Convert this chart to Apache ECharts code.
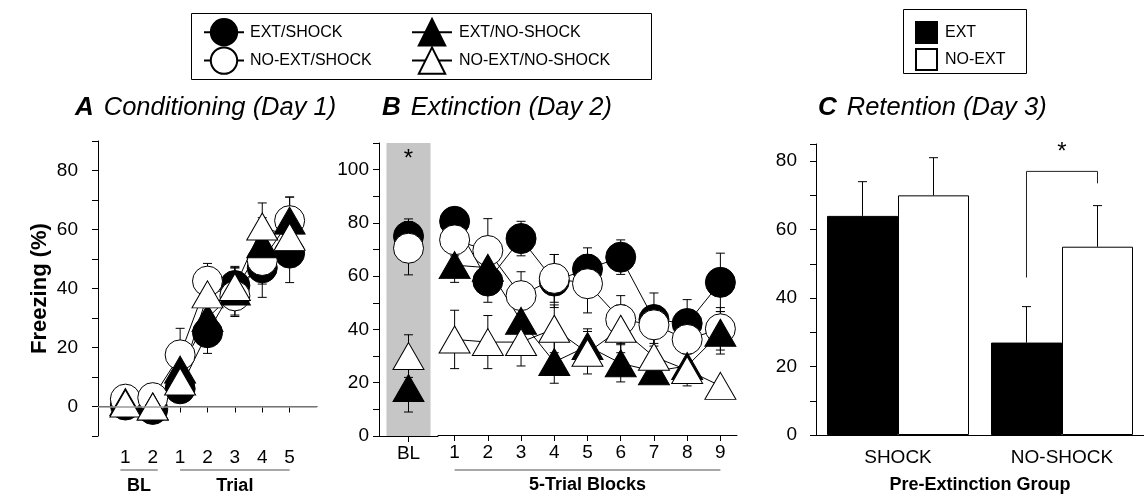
<!DOCTYPE html>
<html>
<head>
<meta charset="utf-8">
<script src="https://cdn.jsdelivr.net/npm/echarts@6/dist/echarts.min.js"></script>
<style>
  html, body { margin: 0; padding: 0; background: #fff; }
  #chart { width: 1144px; height: 499px; }
</style>
</head>
<body>
<div id="chart"></div>
<script>
// ---- Data: freezing (%) and SEM per group ----
const groupNames = ['EXT/SHOCK', 'NO-EXT/SHOCK', 'EXT/NO-SHOCK', 'NO-EXT/NO-SHOCK'];

// A: conditioning (BL 1-2, trials 1-5)
const condLabels = ['1', '2', '1', '2', '3', '4', '5'];
const condExtShock = [0.5, -1, 6, 25, 41, 47, 52];
const condExtShockSem = [2, 2, 3, 7, 6, 10, 10];
const condNoExtShock = [2.5, 3, 17.5, 42.5, 37.5, 49.5, 63];
const condNoExtShockSem = [2, 2, 9, 6, 7, 8, 8];
const condExtNoShock = [1.5, 0, 12.5, 30, 39, 55, 63];
const condExtNoShockSem = [2, 2, 6, 6, 8, 9, 8];
const condNoExtNoShock = [1, 0, 8.5, 38, 40.5, 61, 57.5];
const condNoExtNoShockSem = [2, 2, 4, 6, 7, 8, 8];

// B: extinction baseline and 5-trial blocks 1-9
const extBaseLabel = ['BL'];
const extBlockLabels = ['1', '2', '3', '4', '5', '6', '7', '8', '9'];
const extBaseExtShock = [75];       const extBaseExtShockSem = [6.5];
const extBaseNoExtShock = [70.5];   const extBaseNoExtShockSem = [10];
const extBaseExtNoShock = [18];     const extBaseExtNoShockSem = [9];
const extBaseNoExtNoShock = [30];   const extBaseNoExtNoShockSem = [8];
const extExtShock = [80.5, 58, 74, 58, 62.5, 67, 43.5, 42, 57.5];
const extExtShockSem = [3, 8, 6.5, 10, 8, 6.5, 10, 9, 11];
const extNoExtShock = [73.5, 69.5, 52.5, 59, 57, 43.5, 41.5, 36, 40];
const extNoExtShockSem = [6, 12, 9, 9, 11, 9, 7, 8, 8];
const extExtNoShock = [64, 63, 43, 27.5, 33.5, 27, 24, 26, 38.5];
const extExtNoShockSem = [6.5, 9, 8, 8, 6.5, 7, 4, 5, 8];
const extNoExtNoShock = [36, 35, 35, 40, 31, 40, 29.5, 24.5, 18.5];
const extNoExtNoShockSem = [11, 10, 9, 9, 8, 9, 10, 6, 2];

// C: retention by pre-extinction group
const retGroups = ['SHOCK', 'NO-SHOCK'];
const retExt = [64, 27];
const retExtSem = [10, 10.5];
const retNoExt = [70, 55];
const retNoExtSem = [11, 12];

// ---- Styling ----
const FONT = 'Liberation Sans';
const BLACK = '#000';
const groupStyle = {
  'EXT/SHOCK':       { symbol: 'circle',   fill: '#000' },
  'NO-EXT/SHOCK':    { symbol: 'circle',   fill: '#fff' },
  'EXT/NO-SHOCK':    { symbol: 'triangle', fill: '#000' },
  'NO-EXT/NO-SHOCK': { symbol: 'triangle', fill: '#fff' }
};
const CIRCLE_SIZE = 30;
const TRI_SIZE = [31, 27];
const CAP = 4.5;
const BAR_CAT_GAP = 0.134;

const condSets = [
  [condExtShock, condExtShockSem], [condNoExtShock, condNoExtShockSem],
  [condExtNoShock, condExtNoShockSem], [condNoExtNoShock, condNoExtNoShockSem]
];
const baseSets = [
  [extBaseExtShock, extBaseExtShockSem], [extBaseNoExtShock, extBaseNoExtShockSem],
  [extBaseExtNoShock, extBaseExtNoShockSem], [extBaseNoExtNoShock, extBaseNoExtNoShockSem]
];
const blockSets = [
  [extExtShock, extExtShockSem], [extNoExtShock, extNoExtShockSem],
  [extExtNoShock, extExtNoShockSem], [extNoExtNoShock, extNoExtNoShockSem]
];

function errorBars(params, api) {
  const x = api.value(0), y = api.value(1), e = api.value(2);
  const hi = api.coord([x, y + e]);
  const lo = api.coord([x, y - e]);
  const cx = hi[0];
  const st = { stroke: BLACK, lineWidth: 1 };
  return {
    type: 'group',
    children: [
      { type: 'line', shape: { x1: cx, y1: hi[1], x2: cx, y2: lo[1] }, style: st },
      { type: 'line', shape: { x1: cx - CAP, y1: hi[1], x2: cx + CAP, y2: hi[1] }, style: st },
      { type: 'line', shape: { x1: cx - CAP, y1: lo[1], x2: cx + CAP, y2: lo[1] }, style: st }
    ]
  };
}

function groupSeries(name, values, sems, axisIdx, offset, withLine) {
  const gs = groupStyle[name];
  const pts = values.map((v, i) => [i + offset, v]);
  const errs = values.map((v, i) => [i + offset, v, sems[i]]);
  return [
    {
      type: 'custom', name: name + ' SEM', xAxisIndex: axisIdx, yAxisIndex: axisIdx,
      renderItem: errorBars, data: errs, encode: { x: 0, y: 1 }, silent: true
    },
    {
      type: 'line', name: name, xAxisIndex: axisIdx, yAxisIndex: axisIdx,
      data: pts,
      symbol: gs.symbol,
      symbolSize: gs.symbol === 'circle' ? CIRCLE_SIZE : TRI_SIZE,
      showSymbol: true,
      lineStyle: { color: BLACK, width: withLine ? 1 : 0, opacity: withLine ? 1 : 0 },
      itemStyle: { color: gs.fill, borderColor: BLACK, borderWidth: 1 },
      emphasis: { disabled: true }
    }
  ];
}

const series = [];

// zero reference line in A
series.push({
  type: 'line', xAxisIndex: 0, yAxisIndex: 0, data: [], silent: true,
  markLine: {
    silent: true, symbol: 'none', label: { show: false },
    lineStyle: { color: '#9a9a9a', width: 1.5, type: 'solid' },
    data: [{ yAxis: 0 }]
  }
});

// grey baseline band in B
series.push({
  type: 'bar', xAxisIndex: 1, yAxisIndex: 1, data: [110], barWidth: 44,
  itemStyle: { color: '#c6c6c6' }, silent: true, z: 1
});

groupNames.forEach((name, g) => {
  series.push(...groupSeries(name, condSets[g][0], condSets[g][1], 0, 1, true));
  series.push(...groupSeries(name, baseSets[g][0], baseSets[g][1], 1, 0, false));
  series.push(...groupSeries(name, blockSets[g][0], blockSets[g][1], 2, 0, true));
});

// significance star above the baseline column
series.push({
  type: 'custom', xAxisIndex: 1, yAxisIndex: 1, silent: true, data: [[0, 104]],
  renderItem: (params, api) => {
    const p = api.coord([api.value(0), api.value(1)]);
    return { type: 'text', x: p[0], y: p[1],
      style: { text: '*', fill: BLACK, font: '24px ' + FONT, align: 'center', verticalAlign: 'middle' } };
  }
});

// C: bars
series.push({
  type: 'bar', name: 'EXT', xAxisIndex: 3, yAxisIndex: 3, data: retExt,
  barGap: '0%', barCategoryGap: (BAR_CAT_GAP * 100) + '%',
  itemStyle: { color: '#000', borderColor: BLACK, borderWidth: 1 }, emphasis: { disabled: true }
});
series.push({
  type: 'bar', name: 'NO-EXT', xAxisIndex: 3, yAxisIndex: 3, data: retNoExt,
  barGap: '0%', barCategoryGap: (BAR_CAT_GAP * 100) + '%',
  itemStyle: { color: '#fff', borderColor: BLACK, borderWidth: 1 }, emphasis: { disabled: true }
});

function barErrors(side) {
  return (params, api) => {
    const x = api.value(0), y = api.value(1), e = api.value(2);
    const band = api.size([1, 0])[0];
    const barW = band * (1 - BAR_CAT_GAP) / 2;
    const base = api.coord([x, y]);
    const top = api.coord([x, y + e]);
    const cx = base[0] + side * barW / 2;
    const st = { stroke: BLACK, lineWidth: 1 };
    return { type: 'group', children: [
      { type: 'line', shape: { x1: cx, y1: base[1], x2: cx, y2: top[1] }, style: st },
      { type: 'line', shape: { x1: cx - CAP, y1: top[1], x2: cx + CAP, y2: top[1] }, style: st }
    ] };
  };
}
series.push({
  type: 'custom', xAxisIndex: 3, yAxisIndex: 3, silent: true, z: 3,
  data: retExt.map((v, i) => [i, v, retExtSem[i]]), encode: { x: 0, y: 1 }, renderItem: barErrors(-1)
});
series.push({
  type: 'custom', xAxisIndex: 3, yAxisIndex: 3, silent: true, z: 3,
  data: retNoExt.map((v, i) => [i, v, retNoExtSem[i]]), encode: { x: 0, y: 1 }, renderItem: barErrors(1)
});

// C: significance bracket between EXT and NO-EXT of NO-SHOCK
const bracketTop = 77, bracketLeftFoot = 46, bracketRightFoot = 73.5, bracketStar = 82.5;
series.push({
  type: 'custom', xAxisIndex: 3, yAxisIndex: 3, silent: true, z: 3,
  data: [[1, bracketTop]], encode: { x: 0, y: 1 },
  renderItem: (params, api) => {
    const x = api.value(0);
    const band = api.size([1, 0])[0];
    const barW = band * (1 - BAR_CAT_GAP) / 2;
    const c = api.coord([x, bracketTop])[0];
    const xl = c - barW / 2, xr = c + barW / 2;
    const yt = api.coord([x, bracketTop])[1];
    const yl = api.coord([x, bracketLeftFoot])[1];
    const yr = api.coord([x, bracketRightFoot])[1];
    const ys = api.coord([x, bracketStar])[1];
    return { type: 'group', children: [
      { type: 'polyline', shape: { points: [[xl, yl], [xl, yt], [xr, yt], [xr, yr]] },
        style: { stroke: '#222', lineWidth: 1, fill: null } },
      { type: 'text', x: c, y: ys,
        style: { text: '*', fill: BLACK, font: '24px ' + FONT, align: 'center', verticalAlign: 'middle' } }
    ] };
  }
});

// ---- Axes ----
const axisLine = { show: true, lineStyle: { color: BLACK, width: 1 } };
const tickStyle = { show: true, length: 6, lineStyle: { color: BLACK, width: 1 } };
const labelFont = { color: BLACK, fontSize: 19, fontFamily: FONT };
function yLabelEvery20(limit) {
  return v => (v % 20 === 0 && v >= 0 && v <= limit) ? String(v) : '';
}

const condAxisData = [''].concat(condLabels, ['']);

const option = {
  animation: false,
  backgroundColor: '#fff',
  textStyle: { fontFamily: FONT },
  title: [
    { left: 75, top: 95, text: '{l|A}{t|Conditioning (Day 1)}' },
    { left: 382, top: 95, text: '{l|B}{t|Extinction (Day 2)}' },
    { left: 818, top: 95, text: '{l|C}{t|Retention (Day 3)}' }
  ].map(t => Object.assign(t, { padding: 0, textStyle: { fontWeight: 'normal', rich: {
    l: { fontSize: 26, fontWeight: 'bold', fontStyle: 'italic', fontFamily: FONT, color: BLACK, padding: [0, 10, 0, 0] },
    t: { fontSize: 25.5, fontWeight: 'normal', fontStyle: 'italic', fontFamily: FONT, color: BLACK }
  } } })),
  legend: [
    { data: ['EXT/SHOCK', 'NO-EXT/SHOCK'], orient: 'vertical', left: 198, top: 13,
      itemWidth: 40, itemHeight: 33, itemGap: 0, selectedMode: false,
      textStyle: { color: BLACK, fontSize: 16, fontFamily: FONT, padding: [0, 0, 0, 1] } },
    { data: ['EXT/NO-SHOCK', 'NO-EXT/NO-SHOCK'], orient: 'vertical', left: 406, top: 13,
      itemWidth: 40, itemHeight: 33, itemGap: 0, selectedMode: false,
      textStyle: { color: BLACK, fontSize: 16, fontFamily: FONT, padding: [0, 0, 0, 2] } },
    { data: ['EXT', 'NO-EXT'], orient: 'vertical', left: 910, top: 16, icon: 'rect',
      itemWidth: 21, itemHeight: 21, itemGap: 4, selectedMode: false,
      textStyle: { color: BLACK, fontSize: 16, fontFamily: FONT, padding: [0, 0, 0, 3] } }
  ],
  grid: [
    { left: 98, top: 141, width: 219, height: 295 },
    { left: 379, top: 143, width: 59, height: 293 },
    { left: 438, top: 143, width: 299, height: 293 },
    { left: 816, top: 144, width: 328, height: 293 }
  ],
  xAxis: [
    { gridIndex: 0, type: 'category', data: condAxisData, boundaryGap: false,
      axisLine, axisTick: Object.assign({}, tickStyle, { interval: (i, v) => v !== '' }),
      axisLabel: Object.assign({ interval: 0, margin: 12 }, labelFont), splitLine: { show: false } },
    { gridIndex: 1, type: 'category', data: extBaseLabel, boundaryGap: true,
      axisLine, axisTick: Object.assign({}, tickStyle, { alignWithLabel: true }),
      axisLabel: Object.assign({ interval: 0, margin: 8 }, labelFont), splitLine: { show: false } },
    { gridIndex: 2, type: 'category', data: extBlockLabels, boundaryGap: true,
      axisLine, axisTick: Object.assign({}, tickStyle, { alignWithLabel: true }),
      axisLabel: Object.assign({ interval: 0, margin: 8 }, labelFont), splitLine: { show: false },
      name: '5-Trial Blocks', nameLocation: 'middle', nameGap: 41,
      nameTextStyle: { color: BLACK, fontSize: 18, fontWeight: 'bold', fontFamily: FONT } },
    { gridIndex: 3, type: 'category', data: retGroups, boundaryGap: true,
      axisLine, axisTick: { show: false },
      axisLabel: Object.assign({ interval: 0, margin: 13 }, labelFont), splitLine: { show: false },
      name: 'Pre-Extinction Group', nameLocation: 'middle', nameGap: 41,
      nameTextStyle: { color: BLACK, fontSize: 18, fontWeight: 'bold', fontFamily: FONT } }
  ],
  yAxis: [
    { gridIndex: 0, type: 'value', min: -10, max: 90, interval: 10,
      axisLine, axisTick: tickStyle, splitLine: { show: false },
      axisLabel: Object.assign({ margin: 20, formatter: yLabelEvery20(80) }, labelFont),
      name: 'Freezing (%)', nameLocation: 'middle', nameGap: 47, nameRotate: 90,
      nameTextStyle: { color: BLACK, fontSize: 22, fontWeight: 'bold', fontFamily: FONT } },
    { gridIndex: 1, type: 'value', min: 0, max: 110, interval: 10,
      axisLine, axisTick: tickStyle, splitLine: { show: false },
      axisLabel: Object.assign({ margin: 10, formatter: yLabelEvery20(100) }, labelFont) },
    { gridIndex: 2, type: 'value', min: 0, max: 110, interval: 10, show: false },
    { gridIndex: 3, type: 'value', min: 0, max: 85, interval: 10,
      axisLine, axisTick: tickStyle, splitLine: { show: false },
      axisLabel: Object.assign({ margin: 19, formatter: yLabelEvery20(80) }, labelFont) }
  ],
  series: series
};

const chart = echarts.init(document.getElementById('chart'), null, { renderer: 'canvas' });
chart.setOption(option);

// Group labels under the axes of A and B, placed from the category scale
function catX(axisIdx, idx) {
  return chart.convertToPixel({ xAxisIndex: axisIdx }, idx);
}
const underlineY = 470, groupLabelY = 486;
const groups = [
  { axis: 0, from: 1, to: 2, pad: 5, text: 'BL', showText: true },
  { axis: 0, from: 3, to: 7, pad: 0, text: 'Trial', showText: true },
  { axis: 2, from: 0, to: 8, pad: 0, text: '', showText: false }
];
const graphics = [
  { type: 'rect', shape: { x: 191.5, y: 13.5, width: 460, height: 66 },
    style: { stroke: BLACK, lineWidth: 1, fill: null }, silent: true },
  { type: 'rect', shape: { x: 903.5, y: 9.5, width: 123, height: 64 },
    style: { stroke: BLACK, lineWidth: 1, fill: null }, silent: true }
];
groups.forEach(g => {
  const x1 = catX(g.axis, g.from) - g.pad;
  const x2 = catX(g.axis, g.to) + g.pad;
  graphics.push({ type: 'line', silent: true,
    shape: { x1: x1, y1: underlineY, x2: x2, y2: underlineY },
    style: { stroke: '#8a8a8a', lineWidth: 1.5 } });
  if (g.showText) {
    graphics.push({ type: 'text', silent: true, x: (x1 + x2) / 2, y: groupLabelY,
      style: { text: g.text, fill: BLACK, font: 'bold 18px ' + FONT, align: 'center', verticalAlign: 'middle' } });
  }
});
chart.setOption({ graphic: graphics });
</script>
</body>
</html>
